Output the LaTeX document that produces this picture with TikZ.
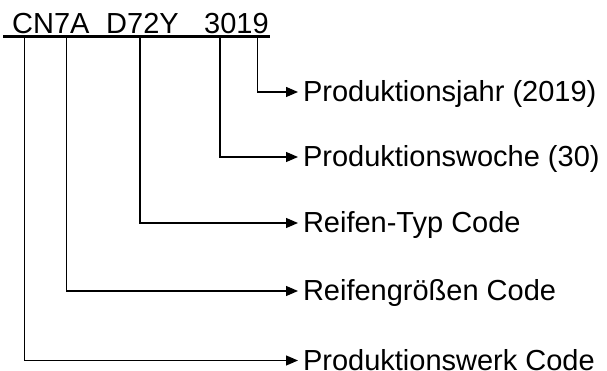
\documentclass[tikz,border=0pt]{standalone}
\usepackage{fontspec}
\setmainfont{Liberation Sans}
\usepackage{tikz}
\usetikzlibrary{arrows.meta,positioning}

\begin{document}
\begin{tikzpicture}[x=1pt,y=-1pt,>={Triangle[length=12pt,width=10pt]},
    code/.style={anchor=base west,inner sep=0pt,font=\fontsize{29}{34}\selectfont},
    label/.style={anchor=west,inner xsep=0pt,inner ysep=0pt,outer xsep=5pt,
      text height=19pt,text depth=0pt,font=\fontsize{29}{34}\selectfont},
    tap/.style={line width=1.3pt,->}]

    \useasboundingbox (0,0) rectangle (607,371);

    % The code on the tyre
    \node [code] at (12,33.5) (CN7A) {CN7A};
    \node [code] at (106,33.5) (D72Y) {D72Y};
    \node [code] at (204,33.5) (DOT) {3019};
    \draw [line width=2.7pt] (3,36.5) -- (270,36.5);

    % Where the lines leave the code
    \coordinate (werk) at (24.5,37);
    \coordinate (groesse) at (66.5,37);
    \coordinate (typ) at (140,37);
    \coordinate (woche) at (220,37);
    \coordinate (jahr) at (257.5,37);

    % The meanings
    \node [label] at (298,92) (Jahr) {Produktionsjahr (2019)};
    \node [label] at (298,157) (Woche) {Produktionswoche (30)};
    \node [label] at (298,223) (Typ) {Reifen-Typ Code};
    \node [label] at (298,291) (Groesse) {Reifengrößen Code};
    \node [label] at (298,360.5) (Werk) {Produktionswerk Code};

    % Lines
    \draw [tap] (jahr) |- (Jahr.west);
    \draw [tap] (woche) |- (Woche.west);
    \draw [tap] (typ) |- (Typ.west);
    \draw [tap] (groesse) |- (Groesse.west);
    \draw [tap] (werk) |- (Werk.west);

\end{tikzpicture}
\end{document}
